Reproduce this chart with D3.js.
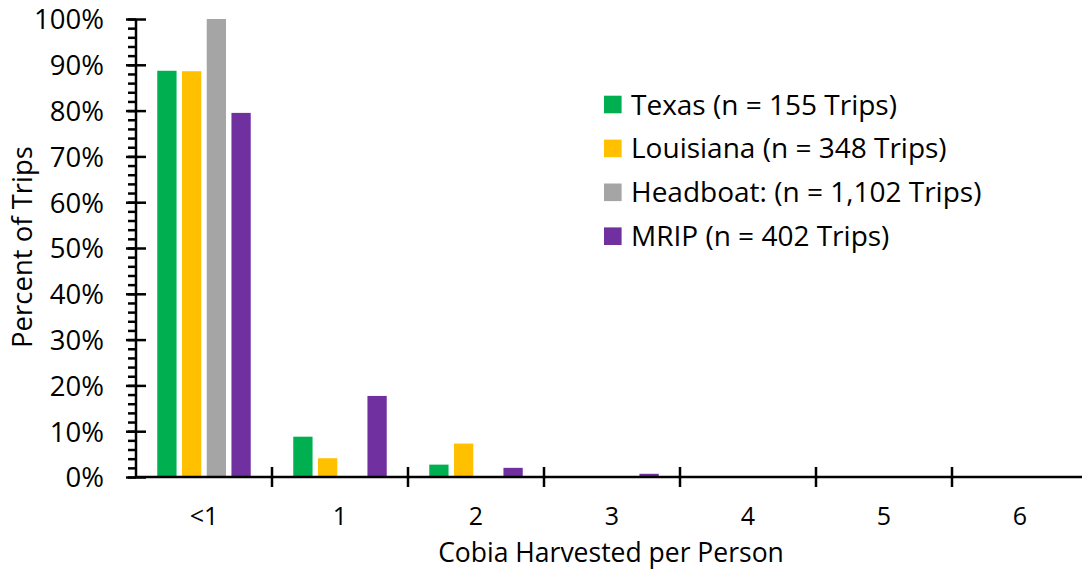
<!DOCTYPE html>
<html>
<head>
<meta charset="utf-8">
<script src="https://cdn.jsdelivr.net/npm/d3@7"></script>
<style>
  html, body { margin: 0; padding: 0; background: #fff; }
  svg { display: block; }
  text { font-family: "Open Sans", Lato, sans-serif; fill: #000; }
</style>
</head>
<body>
<svg id="chart" width="1082" height="569"></svg>
<script>
const categories = ["<1", "1", "2", "3", "4", "5", "6"];
const seriesNames = ["Texas (n = 155 Trips)", "Louisiana (n = 348 Trips)", "Headboat: (n = 1,102 Trips)", "MRIP (n = 402 Trips)"];
const seriesColors = ["#00B050", "#FFC000", "#A5A5A5", "#7030A0"];
const texas = [88.7, 8.8, 2.7, 0, 0, 0, 0];
const louisiana = [88.6, 4.1, 7.3, 0, 0, 0, 0];
const headboat = [100, 0, 0, 0, 0, 0, 0];
const mrip = [79.5, 17.7, 2.0, 0.7, 0, 0, 0];
const yTicks = [0, 10, 20, 30, 40, 50, 60, 70, 80, 90, 100];
const yMinorTicks = d3.range(0, 101, 2);

const seriesValues = [texas, louisiana, headboat, mrip];
const svg = d3.select("#chart");
const FONT = "'Open Sans', Lato, sans-serif";
const FS = "27.5px";

const x0 = d3.scaleBand().domain(categories).range([136, 1088]).paddingInner(0).paddingOuter(0);
const x1 = d3.scaleBand().domain(d3.range(seriesNames.length)).range([0, x0.bandwidth()])
  .paddingInner(0.22).paddingOuter(0.86);
const y = d3.scaleLinear().domain([0, 100]).range([477, 19]);

// bars
const groups = svg.append("g").selectAll("g")
  .data(categories).join("g")
  .attr("transform", d => `translate(${x0(d)},0)`);
groups.selectAll("rect")
  .data((c, ci) => seriesValues.map((vals, si) => ({ si, v: vals[ci] })))
  .join("rect")
  .filter(d => d.v > 0)
  .attr("x", d => x1(d.si))
  .attr("width", x1.bandwidth())
  .attr("y", d => y(d.v))
  .attr("height", d => y(0) - y(d.v))
  .attr("fill", d => seriesColors[d.si]);

// y axis minor ticks
const yAxisMinor = d3.axisLeft(y).tickValues(yMinorTicks).tickSize(8).tickFormat("");
svg.append("g").attr("transform", "translate(136,0)").call(yAxisMinor)
  .call(g => g.select(".domain").remove())
  .call(g => g.selectAll("line").attr("stroke", "#000").attr("stroke-width", 2.5));

// y axis major
const yAxis = d3.axisLeft(y).tickValues(yTicks).tickSize(10).tickPadding(22)
  .tickFormat(d => d + "%");
const yg = svg.append("g").attr("transform", "translate(136,0)").call(yAxis);
yg.select(".domain").attr("stroke", "#000").attr("stroke-width", 2.5).attr("d", `M0,${y(100)}V${y(0)}`);
yg.selectAll(".tick line").attr("stroke", "#000").attr("stroke-width", 2.5).attr("x1", 10).attr("x2", -10);
yg.selectAll(".tick text").style("font-size", FS).attr("font-family", FONT).attr("dy", "0.36em");

// x axis
const xAxis = d3.axisBottom(x0).tickSize(0).tickPadding(0);
const xg = svg.append("g").attr("transform", `translate(0,${y(0)})`).call(xAxis);
xg.select(".domain").attr("stroke", "#000").attr("stroke-width", 2.5).attr("d", `M136,0H1088`);
xg.selectAll(".tick text").style("font-size", "25px").attr("font-family", FONT)
  .attr("y", 48).attr("dy", null);
// category boundary ticks
const bounds = categories.slice(1).map(c => x0(c));
svg.append("g").selectAll("line").data(bounds).join("line")
  .attr("x1", d => d).attr("x2", d => d)
  .attr("y1", y(0) - 10).attr("y2", y(0) + 10)
  .attr("stroke", "#000").attr("stroke-width", 2.5);

// axis titles
svg.append("text").attr("x", 611).attr("y", 562).attr("text-anchor", "middle")
  .style("font-size", "26.5px").text("Cobia Harvested per Person");
svg.append("text").attr("transform", "translate(32,247) rotate(-90)").attr("text-anchor", "middle")
  .style("font-size", FS).text("Percent of Trips");

// legend
const legend = svg.append("g").selectAll("g").data(seriesNames).join("g")
  .attr("transform", (d, i) => `translate(604,${104.5 + i * 43.9})`);
legend.append("rect").attr("x", 0).attr("y", -8.8).attr("width", 17.6).attr("height", 17.6)
  .attr("fill", (d, i) => seriesColors[i]);
legend.append("text").attr("x", 27).attr("dy", "0.36em").style("font-size", "28px").text(d => d);
</script>
</body>
</html>
